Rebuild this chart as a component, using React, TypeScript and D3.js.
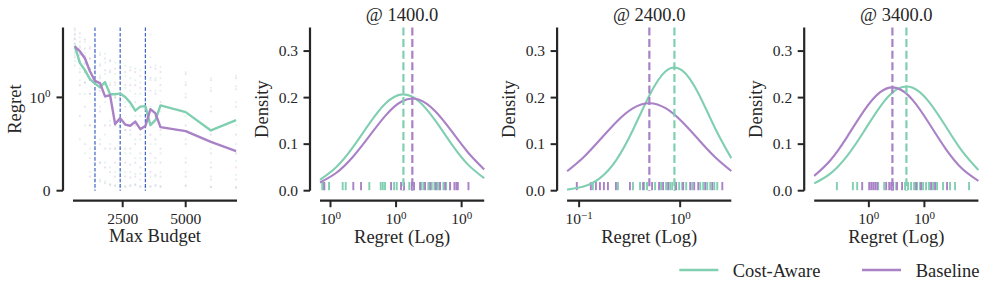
import React from 'react';
import * as d3 from 'd3';

// ---------- data ----------
const budgets = [600, 800, 1000, 1200, 1400, 1600, 1800, 2000, 2200, 2400, 2600, 2800, 3000, 3200, 3400, 3600, 3800, 4000, 5000, 6000, 7000];
const costAwareMean = [4.13, 2.58, 2.11, 1.65, 1.46, 1.32, 1.52, 1.09, 1.09, 1.11, 1.01, 0.944, 0.858, 0.901, 0.907, 0.703, 0.757, 0.914, 0.842, 0.646, 0.757];
const baselineMean = [4.01, 3.55, 2.93, 2.05, 1.57, 1.48, 1.03, 1.06, 0.714, 0.778, 0.709, 0.696, 0.741, 0.66, 0.693, 0.874, 0.828, 0.682, 0.639, 0.524, 0.425];

const costAwareScatter = [
  [6.3, 5.5, 4.9, 4.4, 4.0, 3.6, 3.2, 2.7],
  [5.2, 4.1, 3.3, 2.7, 2.2, 1.6, 1.1, 0.55],
  [4.6, 3.4, 2.6, 2.0, 1.5, 1.1, 0.7, 0.4],
  [4.0, 2.9, 2.2, 1.6, 1.1, 0.7, 0.45, 0.2],
  [3.4, 2.6, 2.0, 1.5, 1.1, 0.75, 0.45, 0.1],
  [3.4, 2.5, 1.8, 1.3, 0.9, 0.55, 0.3, 0.12],
  [3.3, 2.6, 1.9, 1.4, 0.95, 0.6, 0.3, 0.1],
  [2.8, 2.1, 1.5, 1.1, 0.75, 0.5, 0.25, 0.07],
  [2.6, 1.9, 1.4, 1.0, 0.7, 0.45, 0.2, 0.06],
  [2.5, 1.8, 1.3, 0.95, 0.65, 0.4, 0.2, 0.05],
  [2.4, 1.8, 1.3, 0.95, 0.65, 0.4, 0.2, 0.05],
  [2.3, 1.7, 1.2, 0.9, 0.6, 0.4, 0.2, 0.06],
  [2.2, 1.6, 1.1, 0.8, 0.55, 0.35, 0.18, 0.07],
  [2.1, 1.5, 1.1, 0.8, 0.55, 0.35, 0.18, 0.05],
  [3.2, 2.0, 1.4, 0.95, 0.6, 0.35, 0.18, 0.04],
  [5.6, 3.0, 1.6, 0.9, 0.5, 0.3, 0.15, 0.04],
  [2.4, 1.7, 1.2, 0.8, 0.5, 0.3, 0.15, 0.05],
  [2.3, 1.7, 1.2, 0.85, 0.6, 0.4, 0.2, 0.05],
  [2.0, 1.5, 1.1, 0.8, 0.55, 0.35, 0.2, 0.06],
  [1.7, 1.3, 0.9, 0.65, 0.45, 0.3, 0.15, 0.04],
  [1.8, 1.35, 0.95, 0.7, 0.5, 0.32, 0.17, 0.04],
];
const baselineScatter = [
  [6.6, 5.7, 5.0, 4.3, 3.8, 3.4, 3.0, 2.4],
  [5.8, 4.6, 3.9, 3.2, 2.6, 2.0, 1.4, 0.8],
  [4.9, 3.8, 3.1, 2.5, 2.0, 1.5, 0.9, 0.5],
  [3.8, 2.9, 2.2, 1.6, 1.1, 0.7, 0.35, 0.15],
  [3.5, 2.7, 2.1, 1.6, 1.2, 0.8, 0.5, 0.12],
  [3.2, 2.4, 1.7, 1.2, 0.85, 0.5, 0.3, 0.1],
  [2.9, 2.1, 1.5, 1.0, 0.7, 0.45, 0.25, 0.08],
  [2.7, 2.0, 1.4, 1.0, 0.7, 0.45, 0.2, 0.06],
  [2.2, 1.5, 1.0, 0.7, 0.45, 0.3, 0.15, 0.05],
  [2.2, 1.5, 1.0, 0.7, 0.45, 0.3, 0.15, 0.04],
  [2.0, 1.4, 0.9, 0.65, 0.45, 0.3, 0.15, 0.04],
  [2.1, 1.4, 0.95, 0.65, 0.45, 0.28, 0.14, 0.05],
  [2.0, 1.4, 0.95, 0.7, 0.5, 0.3, 0.15, 0.06],
  [1.8, 1.3, 0.9, 0.6, 0.4, 0.25, 0.12, 0.04],
  [2.6, 1.8, 1.2, 0.8, 0.5, 0.3, 0.15, 0.04],
  [2.3, 1.7, 1.2, 0.85, 0.6, 0.4, 0.2, 0.05],
  [2.2, 1.6, 1.1, 0.8, 0.55, 0.35, 0.17, 0.06],
  [2.0, 1.4, 0.95, 0.65, 0.45, 0.3, 0.15, 0.04],
  [1.9, 1.4, 1.0, 0.7, 0.5, 0.3, 0.15, 0.05],
  [1.6, 1.2, 0.85, 0.6, 0.4, 0.25, 0.12, 0.04],
  [1.7, 1.25, 0.9, 0.6, 0.4, 0.25, 0.12, 0.03],
];

const cutoffBudgets = [1400, 2400, 3400];
const budgetTicks = [2500, 5000];
const regretTicks = [0, 1];

// density panels (x in log10 units)
const densityDomains = [[-0.58, 0.672], [-1.119, 0.506], [-0.492, 0.986]];
const densityTicks = [[-0.5, 0, 0.5], [-1, 0], [0, 0.5]];
const densityTickExp = [['0', '0', '0'], ['\u22121', '0'], ['0', '0']];
const densityYTicks = [0, 0.1, 0.2, 0.3];

const densityGrid = [
  [-0.58, -0.455, -0.33, -0.204, -0.079, 0.046, 0.171, 0.297, 0.422, 0.547, 0.672],
  [-1.119, -0.956, -0.794, -0.631, -0.469, -0.306, -0.144, 0.019, 0.181, 0.344, 0.506],
  [-0.492, -0.344, -0.197, -0.049, 0.099, 0.247, 0.395, 0.543, 0.69, 0.838, 0.986],
];
const costAwareDensity = [
  [0.0235, 0.0509, 0.0929, 0.1439, 0.1877, 0.2069, 0.1928, 0.1515, 0.1007, 0.0566, 0.0269],
  [0.0023, 0.0089, 0.0271, 0.0664, 0.1299, 0.2042, 0.2567, 0.2586, 0.2089, 0.1349, 0.07],
  [0.0157, 0.0373, 0.0743, 0.1257, 0.1797, 0.217, 0.2212, 0.1905, 0.1389, 0.0854, 0.0443],
];
const baselineDensity = [
  [0.0176, 0.0385, 0.0724, 0.1171, 0.1619, 0.1922, 0.1959, 0.1711, 0.1283, 0.0827, 0.0457],
  [0.0419, 0.072, 0.1094, 0.1478, 0.1769, 0.188, 0.1773, 0.1482, 0.1101, 0.0725, 0.0424],
  [0.0318, 0.066, 0.1152, 0.1699, 0.2111, 0.2209, 0.1947, 0.1444, 0.0906, 0.0477, 0.0212],
];
const costAwareCenter = [0.056, -0.057, 0.338];
const baselineCenter = [0.124, -0.305, 0.212];

const costAwareRug = [
  [-0.563, -0.55, -0.511, -0.407, -0.384, -0.204, -0.117, -0.101, -0.084, -0.015, 0.005, 0.101, 0.191, 0.208, 0.246, 0.272, 0.292, 0.313, 0.328, 0.361, 0.382, 0.412],
  [-0.864, -0.616, -0.467, -0.397, -0.357, -0.328, -0.248, -0.189, -0.139, -0.099, -0.079, -0.05, -0.01, 0.02, 0.06, 0.119, 0.199, 0.228, 0.268, 0.298, 0.338, 0.367],
  [-0.288, -0.144, -0.105, 0.084, 0.138, 0.246, 0.326, 0.353, 0.38, 0.407, 0.434, 0.461, 0.488, 0.515, 0.542, 0.578, 0.614, 0.668, 0.731, 0.776, 0.902],
];
const baselineRug = [
  [-0.547, -0.326, -0.267, -0.038, 0.038, 0.061, 0.12, 0.137, 0.183, 0.221, 0.26, 0.303, 0.336, 0.374, 0.412, 0.445, 0.46, 0.471, 0.552],
  [-1.023, -0.884, -0.834, -0.794, -0.755, -0.715, -0.636, -0.497, -0.367, -0.278, -0.209, -0.169, -0.119, -0.04, 0.03, 0.099, 0.139, 0.179, 0.248, 0.318, 0.417],
  [-0.06, 0.003, 0.021, 0.039, 0.057, 0.075, 0.156, 0.183, 0.201, 0.219, 0.254, 0.299, 0.425, 0.47, 0.56, 0.596, 0.704],
];

const seriesNames = ['Cost-Aware', 'Baseline'];

// ---------- style ----------
const TEAL = '#80cfb1';
const PURPLE = '#a981c6';
const BLUE = '#3d64c2';
const INK = '#262626';
const FONT = "'Liberation Serif', serif";
const FS_LABEL = 18.5;
const FS_TICK = 15.5;

const TOP = 27.5;
const BOTTOM = 190.7;
const OFFSET = 10;
const TICK = 6.5;

const textStyle = { fontFamily: FONT } as React.CSSProperties;

// symlog transform (base 10, linthresh 1, linscale 1)
const LINSCALE = 1 / (1 - 1 / 10);
const symT = (v: number) =>
  Math.abs(v) <= 1 ? v * LINSCALE : Math.sign(v) * (LINSCALE + Math.log10(Math.abs(v)));

function Pow10({ exp }: { exp: string }) {
  return (
    <>
      <tspan>10</tspan>
      <tspan dy="-0.5em" fontSize="11px">{exp}</tspan>
    </>
  );
}

function LeftPanel() {
  const left = 73;
  const right = 237;
  const x = d3.scaleLinear().domain([528, 7036]).range([left, right]);
  const yLin = d3.scaleLinear().domain([0, symT(6.8)]).range([BOTTOM, TOP]);
  const y = (v: number) => yLin(symT(v));
  const line = d3
    .line<number>()
    .x((_, i) => x(budgets[i]))
    .y((d) => y(d));
  const spineX = left - OFFSET;
  const spineY = BOTTOM + OFFSET;

  return (
    <g>
      {[costAwareScatter, baselineScatter].map((sc, s) => (
        <g key={s} fill={s === 0 ? TEAL : PURPLE} opacity={0.22}>
          {sc.flatMap((vals, i) =>
            vals.map((v, j) => (
              <circle key={`${i}-${j}`} cx={x(budgets[i])} cy={y(v)} r={1.1} />
            ))
          )}
        </g>
      ))}
      {cutoffBudgets.map((b) => (
        <line key={b} x1={x(b)} x2={x(b)} y1={TOP} y2={BOTTOM} stroke={BLUE} strokeWidth={1.2} strokeDasharray="3.6 1.8" />
      ))}
      <path d={line(costAwareMean) || ''} fill="none" stroke={TEAL} strokeWidth={2.4} strokeLinejoin="round" />
      <path d={line(baselineMean) || ''} fill="none" stroke={PURPLE} strokeWidth={2.4} strokeLinejoin="round" />

      <line x1={spineX} x2={spineX} y1={TOP} y2={BOTTOM} stroke={INK} strokeWidth={2.2} />
      <line x1={left} x2={right} y1={spineY} y2={spineY} stroke={INK} strokeWidth={2.2} />
      {regretTicks.map((t, i) => (
        <g key={t}>
          <line x1={spineX - TICK} x2={spineX} y1={y(t)} y2={y(t)} stroke={INK} strokeWidth={2} />
          <text x={spineX - 12.5} y={y(t)} dy="0.33em" textAnchor="end" fontSize={FS_TICK} fill={INK} style={textStyle}>
            {i === 0 ? '0' : <Pow10 exp="0" />}
          </text>
        </g>
      ))}
      {budgetTicks.map((t) => (
        <g key={t}>
          <line x1={x(t)} x2={x(t)} y1={spineY} y2={spineY + TICK} stroke={INK} strokeWidth={2} />
          <text x={x(t)} y={224} textAnchor="middle" fontSize={FS_TICK} fill={INK} style={textStyle}>
            {t}
          </text>
        </g>
      ))}
      <text x={(left + right) / 2} y={241.5} textAnchor="middle" fontSize={FS_LABEL} fill={INK} style={textStyle}>
        Max Budget
      </text>
      <text transform={`translate(${left - 52},${(TOP + BOTTOM) / 2}) rotate(-90)`} textAnchor="middle" fontSize={FS_LABEL} fill={INK} style={textStyle}>
        Regret
      </text>
    </g>
  );
}

function DensityPanel({ k }: { k: number }) {
  const left = 320 + k * 247.1;
  const right = left + 164.2;
  const x = d3.scaleLinear().domain(densityDomains[k]).range([left, right]);
  const y = d3.scaleLinear().domain([0, 0.35]).range([BOTTOM, 27.8]);
  const grid = densityGrid[k];
  const line = d3
    .line<number>()
    .x((_, i) => x(grid[i]))
    .y((d) => y(d))
    .curve(d3.curveNatural);
  const spineX = left - OFFSET;
  const spineY = BOTTOM + OFFSET;
  const rugH = 8.2;
  const series = [
    { dens: costAwareDensity[k], rug: costAwareRug[k], c: costAwareCenter[k], color: TEAL },
    { dens: baselineDensity[k], rug: baselineRug[k], c: baselineCenter[k], color: PURPLE },
  ];
  return (
    <g>
      {series.map((s, i) => (
        <g key={`rug${i}`} stroke={s.color} strokeWidth={1.9}>
          {s.rug.map((v, j) => (
            <line key={j} x1={x(v)} x2={x(v)} y1={BOTTOM - 0.5} y2={BOTTOM - 0.5 - rugH} />
          ))}
        </g>
      ))}
      {series.map((s, i) => (
        <path key={`d${i}`} d={line(s.dens) || ''} fill="none" stroke={s.color} strokeWidth={2.1} />
      ))}
      {series.map((s, i) => (
        <line key={`m${i}`} x1={x(s.c)} x2={x(s.c)} y1={TOP} y2={BOTTOM} stroke={s.color} strokeWidth={2.2} strokeDasharray="8 3.6" />
      ))}

      <line x1={spineX} x2={spineX} y1={TOP} y2={BOTTOM} stroke={INK} strokeWidth={2.2} />
      <line x1={left} x2={right} y1={spineY} y2={spineY} stroke={INK} strokeWidth={2.2} />
      {densityYTicks.map((t) => (
        <g key={t}>
          <line x1={spineX - TICK} x2={spineX} y1={y(t)} y2={y(t)} stroke={INK} strokeWidth={2} />
          <text x={spineX - 12} y={y(t)} dy="0.33em" textAnchor="end" fontSize={FS_TICK} fill={INK} style={textStyle}>
            {t.toFixed(1)}
          </text>
        </g>
      ))}
      {densityTicks[k].map((t, i) => (
        <g key={t}>
          <line x1={x(t)} x2={x(t)} y1={spineY} y2={spineY + TICK} stroke={INK} strokeWidth={2} />
          <text x={x(t)} y={224} textAnchor="middle" fontSize={FS_TICK} fill={INK} style={textStyle}>
            <Pow10 exp={densityTickExp[k][i]} />
          </text>
        </g>
      ))}
      <text x={(left + right) / 2} y={20.5} textAnchor="middle" fontSize={FS_LABEL} fill={INK} style={textStyle}>
        {`@ ${cutoffBudgets[k].toFixed(1)}`}
      </text>
      <text x={(left + right) / 2} y={243} textAnchor="middle" fontSize={FS_LABEL} fill={INK} style={textStyle}>
        Regret (Log)
      </text>
      <text transform={`translate(${left - 52},${(TOP + BOTTOM) / 2}) rotate(-90)`} textAnchor="middle" fontSize={FS_LABEL} fill={INK} style={textStyle}>
        Density
      </text>
    </g>
  );
}

function Legend() {
  const items = [
    { name: seriesNames[0], color: TEAL, x: 679.3, tx: 732.7 },
    { name: seriesNames[1], color: PURPLE, x: 862, tx: 915.7 },
  ];
  return (
    <g>
      {items.map((it) => (
        <g key={it.name}>
          <line x1={it.x} x2={it.x + 39} y1={270} y2={270} stroke={it.color} strokeWidth={2.4} />
          <text x={it.tx} y={276.5} fontSize={FS_LABEL} fill={INK} style={textStyle}>
            {it.name}
          </text>
        </g>
      ))}
    </g>
  );
}

export default function App() {
  return (
    <svg
      width={997}
      height={296}
      viewBox="0 0 997 296"
      style={{ position: 'absolute', left: 0, top: 0, background: '#fff' }}
    >
      <rect width={997} height={296} fill="#fff" />
      <LeftPanel />
      {[0, 1, 2].map((k) => (
        <DensityPanel key={k} k={k} />
      ))}
      <Legend />
    </svg>
  );
}
